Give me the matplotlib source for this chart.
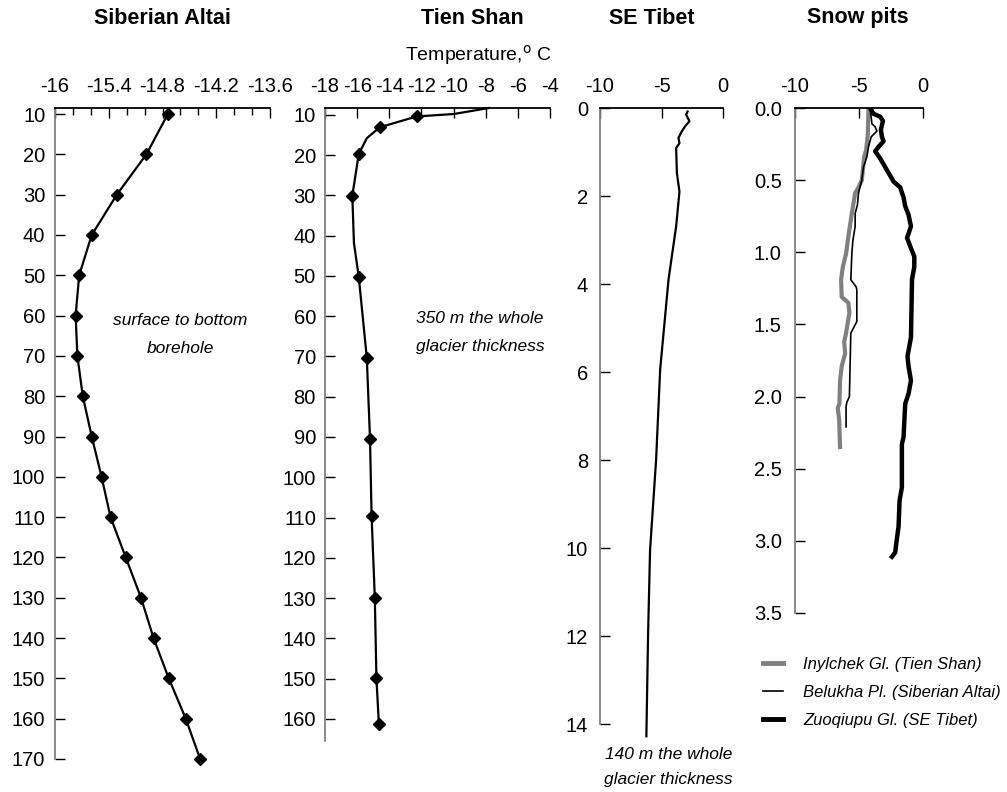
import numpy as np
import matplotlib
matplotlib.use('Agg')
import matplotlib.pyplot as plt
from matplotlib.lines import Line2D

plt.rcParams['font.family'] = ['Liberation Sans', 'DejaVu Sans']
plt.rcParams['axes.unicode_minus'] = False

# Siberian Altai borehole (depth m, temperature C)
alt_depth = [10, 20, 30, 40, 50, 60, 70, 80, 90, 100, 110, 120, 130, 140, 150, 160, 170]
alt_temp = [-14.74, -14.98, -15.31, -15.59, -15.73, -15.77, -15.75, -15.69, -15.59,
            -15.48, -15.38, -15.21, -15.04, -14.90, -14.73, -14.54, -14.38]

# Tien Shan borehole (extra unmarked points follow the smoothed curve)
ts_depth = [8.3, 9.8, 10.4, 13.1, 15.8, 19.7, 30.1, 41.8, 50.2, 70.3, 90.4, 109.7, 130.0, 149.9, 161.2]
ts_temp = [-7.8, -10.0, -12.3, -14.6, -15.4, -15.9, -16.3, -16.2, -15.9, -15.4, -15.2,
           -15.1, -14.9, -14.8, -14.65]
ts_marked = [2, 3, 5, 6, 8, 9, 10, 11, 12, 13, 14]

# SE Tibet borehole (depth in 10 m)
tb_depth = [0.08, 0.15, 0.30, 0.42, 0.53, 0.68, 0.80, 0.91, 1.48, 1.90, 2.69, 3.90,
            5.95, 8.0, 10.05, 11.95, 14.28]
tb_temp = [-2.88, -3.0, -2.73, -3.09, -3.35, -3.62, -3.54, -3.81, -3.75, -3.54, -3.81,
           -4.43, -5.11, -5.44, -5.93, -6.09, -6.23]

# Snow pits (depth m)
iny_depth = [0.0, 0.18, 0.29, 0.34, 0.50, 0.55, 0.59, 0.73, 0.89, 1.01, 1.10, 1.19, 1.31,
             1.35, 1.42, 1.56, 1.62, 1.70, 1.79, 1.89, 2.05, 2.08, 2.16, 2.35]
iny_temp = [-4.26, -4.31, -4.44, -4.60, -4.78, -5.04, -5.30, -5.56, -5.83, -6.01, -6.26,
            -6.40, -6.35, -5.83, -5.75, -6.01, -6.16, -6.08, -6.35, -6.48, -6.53, -6.66,
            -6.55, -6.48]

bel_depth = [0.0, 0.11, 0.13, 0.16, 0.20, 0.27, 0.34, 0.41, 0.50, 0.59, 0.67, 0.73, 0.82,
             0.92, 1.01, 1.19, 1.24, 1.26, 1.48, 1.56, 2.0, 2.04, 2.07, 2.21]
bel_temp = [-4.13, -3.99, -3.74, -3.60, -4.05, -4.26, -4.39, -4.65, -4.78, -5.04, -5.12,
            -5.30, -5.30, -5.48, -5.56, -5.64, -5.22, -5.17, -5.17, -5.64, -5.75, -5.95,
            -6.01, -6.01]

zuo_depth = [0.01, 0.04, 0.06, 0.09, 0.15, 0.20, 0.23, 0.27, 0.30, 0.35, 0.43, 0.51, 0.55,
             0.62, 0.68, 0.74, 0.82, 0.87, 0.90, 0.96, 1.03, 1.10, 1.19, 1.59, 1.72, 1.79,
             1.89, 1.98, 2.05, 2.28, 2.33, 2.63, 2.72, 2.90, 3.02, 3.08, 3.11]
zuo_temp = [-4.07, -3.87, -3.34, -3.13, -3.29, -3.21, -3.08, -3.48, -3.74, -3.34, -2.82,
            -2.30, -1.78, -1.52, -1.39, -1.13, -0.94, -1.13, -1.25, -0.99, -0.68, -0.68,
            -0.86, -0.94, -1.21, -1.13, -0.94, -1.13, -1.39, -1.52, -1.65, -1.65, -1.83,
            -1.91, -2.09, -2.17, -2.43]

snow_labels = ['Inylchek Gl. (Tien Shan)', 'Belukha Pl. (Siberian Altai)', 'Zuoqiupu Gl. (SE Tibet)']

W, H = 1007, 792
fig = plt.figure(figsize=(W / 100, H / 100), dpi=100)


def box(left, top, right, bottom):
    return [left / W, 1 - bottom / H, (right - left) / W, (bottom - top) / H]


def style(ax, ypad):
    ax.xaxis.tick_top()
    ax.spines['right'].set_visible(False)
    ax.spines['bottom'].set_visible(False)
    ax.spines['left'].set_color('#808080')
    ax.spines['left'].set_linewidth(1.3)
    ax.spines['top'].set_linewidth(1.3)
    ax.tick_params(axis='x', direction='in', length=7, width=1, labelsize=14.5, pad=9,
                   top=True, bottom=False)
    ax.tick_params(axis='x', which='minor', direction='in', length=5, width=1, top=True, bottom=False)
    ax.tick_params(axis='y', direction='in', length=7, width=1, labelsize=14.5, pad=ypad)


ax1 = fig.add_axes(box(55, 108, 270, 759))
ax2 = fig.add_axes(box(325, 108, 550, 741))
ax3 = fig.add_axes(box(600, 108, 723, 724))
ax4 = fig.add_axes(box(795, 108, 923, 613))

note = dict(style='italic', fontsize=12.5, ha='center', va='center')

# Siberian Altai
ax1.plot(alt_temp, alt_depth, color='black', lw=1.6, marker='D', ms=6, clip_on=False)
ax1.set_xlim(-16, -13.6)
ax1.set_ylim(170, 8.5)
ax1.set_xticks([-16, -15.4, -14.8, -14.2, -13.6])
ax1.set_xticklabels(['-16', '-15.4', '-14.8', '-14.2', '-13.6'])
ax1.set_xticks(np.arange(-16, -13.59, 0.2), minor=True)
ax1.set_yticks(np.arange(10, 171, 10))
style(ax1, 7)
ax1.text(-14.6, 61.1, 'surface to bottom', **note)
ax1.text(-14.6, 68.1, 'borehole', **note)

# Tien Shan
ax2.plot(ts_temp, ts_depth, color='black', lw=1.6, marker='D', ms=6, markevery=ts_marked,
         clip_on=False)
ax2.set_xlim(-18, -4)
ax2.set_ylim(165.5, 8.3)
ax2.set_xticks(np.arange(-18, -3, 2))
ax2.set_yticks(np.arange(10, 161, 10))
style(ax2, 6.5)
ax2.text(-8.35, 60.5, '350 m the whole', **note)
ax2.text(-8.35, 67.5, 'glacier thickness', **note)

# SE Tibet
ax3.plot(tb_temp, tb_depth, color='black', lw=1.6, clip_on=False)
ax3.set_xlim(-10, 0)
ax3.set_ylim(14, 0)
ax3.set_xticks([-10, -5, 0])
ax3.set_yticks(np.arange(0, 15, 2))
style(ax3, 8.5)
ax3.text(-4.45, 14.7, '140 m the whole', clip_on=False, **note)
ax3.text(-4.45, 15.27, 'glacier thickness', clip_on=False, **note)

# Snow pits
ax4.plot(iny_temp, iny_depth, color='#808080', lw=3)
ax4.plot(bel_temp, bel_depth, color='black', lw=1.2)
ax4.plot(zuo_temp, zuo_depth, color='black', lw=3.2)
ax4.set_xlim(-10, 0)
ax4.set_ylim(3.5, 0)
ax4.set_xticks([-10, -5, 0])
ax4.set_yticks(np.arange(0, 3.51, 0.5))
ax4.yaxis.set_major_formatter(matplotlib.ticker.FormatStrFormatter('%.1f'))
style(ax4, 9.5)

handles = [Line2D([], [], color='#808080', lw=3.5),
           Line2D([], [], color='black', lw=1.2),
           Line2D([], [], color='black', lw=3.5)]
fig.legend(handles, snow_labels, loc='upper left', bbox_to_anchor=(748 / W, 1 - 642 / H),
           frameon=False, handlelength=1.2, handletextpad=1.2, labelspacing=0.78,
           prop={'style': 'italic', 'size': 12})

# titles
for x, t in [(162, 'Siberian Altai'), (472, 'Tien Shan'), (652, 'SE Tibet'), (858, 'Snow pits')]:
    fig.text(x / W, 1 - 18 / H, t, fontsize=15.5, fontweight='bold', ha='center', va='center')
fig.text(552 / W, 1 - 55 / H, 'Temperature,$^{\\mathrm{o}}$ C', fontsize=14, ha='right', va='center')

fig.savefig('out.png', dpi=100)
